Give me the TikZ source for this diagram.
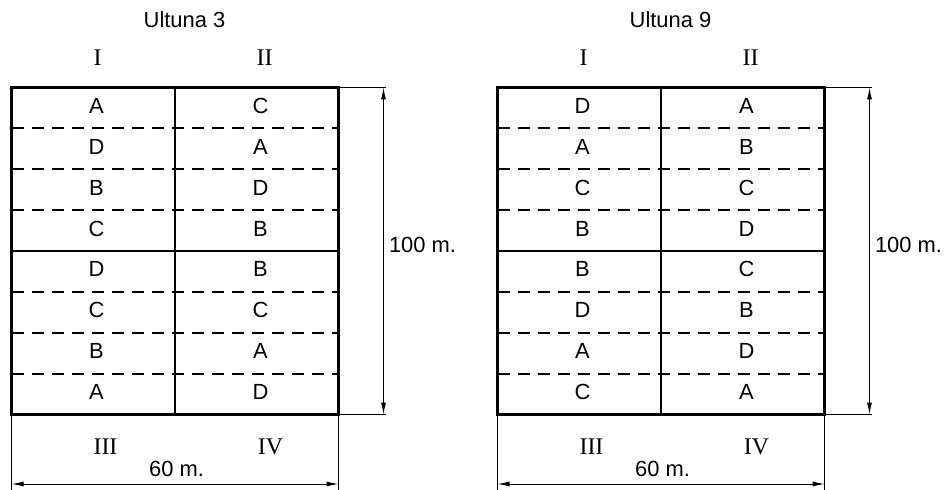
\documentclass[tikz,border=0pt]{standalone}
\usepackage{fontspec}
\setmainfont{Liberation Serif}
\newfontfamily\arialfont{Liberation Sans}
\usetikzlibrary{arrows.meta}
\tikzset{
  border/.style={line width=2.5bp},
  divline/.style={line width=1.8bp, dash pattern=on 12bp off 8bp},
  extline/.style={line width=0.9bp},
  dimline/.style={line width=1bp, {Latex[length=12bp,width=5bp]}-{Latex[length=12bp,width=5bp]}},
  letter/.style={inner sep=0pt, font=\arialfont\fontsize{22}{25}\selectfont},
  ttl/.style={inner sep=0pt, font=\arialfont\fontsize{22}{26}\selectfont},
  dimtext/.style={inner sep=0pt, font=\arialfont\fontsize{22}{26}\selectfont},
  roman/.style={inner sep=0pt, font=\fontsize{24}{28}\selectfont},
}
\newcommand{\plotfield}[5]{%
 \begin{scope}[shift={(#2,0)}]
  \node[ttl] (#1-title) at (173,20) {#3};
  \node[roman] (#1-I) at (86,58) {I};
  \node[roman] (#1-II) at (253,58) {II};
  \node[roman] (#1-III) at (94,447) {III};
  \node[roman] (#1-IV) at (259,447) {IV};
  \foreach \yy in {1,2,3,5,6,7} {\draw[divline] (0,{87.5+\yy*40.875}) -- (327,{87.5+\yy*40.875});}
  \draw[border] (0,{87.5+4*40.875}) -- (327,{87.5+4*40.875});
  \draw[border] (163.5,87.5) -- (163.5,414.5);
  \draw[border] (0,87.5) rectangle (327,414.5);
  \foreach \l [count=\i] in {#4} {\node[letter] (#1-a\i) at (85,{87.5+(\i-0.5)*40.875-2}) {\l};}
  \foreach \l [count=\i] in {#5} {\node[letter] (#1-b\i) at (249,{87.5+(\i-0.5)*40.875-2}) {\l};}
  % dimension 100 m
  \coordinate (#1-tr) at (327,87.5);
  \coordinate (#1-tre) at (374,87.5);
  \coordinate (#1-br) at (327,414.5);
  \coordinate (#1-bre) at (374,414.5);
  \coordinate (#1-va) at (372,87.5);
  \coordinate (#1-vb) at (372,414.5);
  \draw[extline] (#1-tr) -- (#1-tre);
  \draw[extline] (#1-br) -- (#1-bre);
  \draw[dimline] (#1-va) -- (#1-vb);
  \node[dimtext] (#1-h) at (411,245) {100 m.};
  % dimension 60 m
  \coordinate (#1-bl) at (0,414.5);
  \coordinate (#1-ble) at (0,490);
  \coordinate (#1-bre2) at (327,490);
  \coordinate (#1-ha) at (0,484);
  \coordinate (#1-hb) at (327,484);
  \draw[extline] (#1-bl) -- (#1-ble);
  \draw[extline] (#1-br) -- (#1-bre2);
  \draw[dimline] (#1-ha) -- (#1-hb);
  \node[dimtext] (#1-w) at (165,469) {60 m.};
 \end{scope}
}
\begin{document}
\begin{tikzpicture}[x=1bp,y=-1bp]
  \useasboundingbox (0,0) rectangle (944,490);
  \plotfield{u3}{11.5}{Ultuna 3}{A,D,B,C,D,C,B,A}{C,A,D,B,B,C,A,D}
  \plotfield{u9}{497.5}{Ultuna 9}{D,A,C,B,B,D,A,C}{A,B,C,D,C,B,D,A}
\end{tikzpicture}
\end{document}
